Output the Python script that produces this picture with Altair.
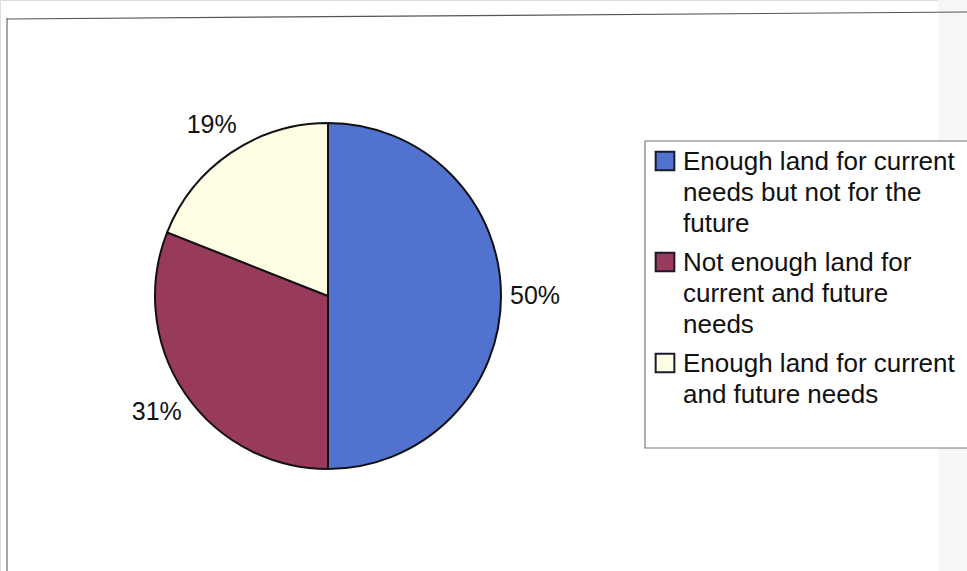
import altair as alt
import pandas as pd

categories = [
    "Enough land for current needs but not for the future",
    "Not enough land for current and future needs",
    "Enough land for current and future needs",
]
values = [50, 31, 19]
labels = ["50%", "31%", "19%"]
colors = ["#5173cf", "#983a5c", "#fffde3"]

df = pd.DataFrame({"category": categories, "value": values, "label": labels,
                   "order": [0, 1, 2]})

FONT = "Liberation Sans"

color_scale = alt.Scale(domain=categories, range=colors)

label_expr = (
    "datum.label == '" + categories[0] + "' ? ['Enough land for current', 'needs but not for the', 'future'] : "
    "datum.label == '" + categories[1] + "' ? ['Not enough land for', 'current and future', 'needs'] : "
    "['Enough land for current', 'and future needs']"
)

base = alt.Chart(df).encode(
    theta=alt.Theta("value:Q", stack=True),
    order=alt.Order("order:Q"),
)

pie = base.mark_arc(stroke="#111111", strokeWidth=2, radius=173).encode(
    x=alt.value(328),
    y=alt.value(296),
    color=alt.Color(
        "category:N",
        scale=color_scale,
        sort=categories,
        legend=alt.Legend(
            title=None,
            orient="none",
            legendX=652,
            legendY=148,
            padding=0,
            symbolType="square",
            symbolSize=350,
            symbolStrokeColor="#1a1a2a",
            symbolStrokeWidth=2,
            labelExpr=label_expr,
            labelFont=FONT,
            labelFontSize=26,
            labelColor="#111111",
            labelLimit=400,
            labelOffset=5,
            rowPadding=11,
            labelBaseline="alphabetic",
        ),
    ),
)

text = base.mark_text(radius=207, font=FONT, fontSize=25, color="#111111").encode(
    x=alt.value(328),
    y=alt.value(296),
    text="label:N",
)

frame_df = pd.DataFrame({"k": [0]})
frame_left = alt.Chart(frame_df).mark_rule(color="#888888", strokeWidth=1.5).encode(
    x=alt.value(7), x2=alt.value(7), y=alt.value(18), y2=alt.value(571))
frame_top = alt.Chart(frame_df).mark_rule(color="#555555", strokeWidth=1.2).encode(
    x=alt.value(7), x2=alt.value(967), y=alt.value(19), y2=alt.value(12))
legend_box = alt.Chart(frame_df).mark_rect(fill="white", stroke="#777777", strokeWidth=1.2).encode(
    x=alt.value(645), x2=alt.value(990), y=alt.value(141), y2=alt.value(448))
right_strip = alt.Chart(frame_df).mark_rect(fill="#f7f7f7").encode(
    x=alt.value(938), x2=alt.value(967), y=alt.value(0), y2=alt.value(571))

chart = alt.layer(right_strip, frame_left, frame_top, legend_box, pie, text).properties(
    width=967, height=571, padding=0,
    autosize=alt.AutoSizeParams(type="none"),
).configure_view(stroke=None).configure(
    style={"guide-label": {"lineHeight": 31, "dy": 9}}
)

chart.save("out.html", embed_options={"renderer": "svg", "actions": False})
